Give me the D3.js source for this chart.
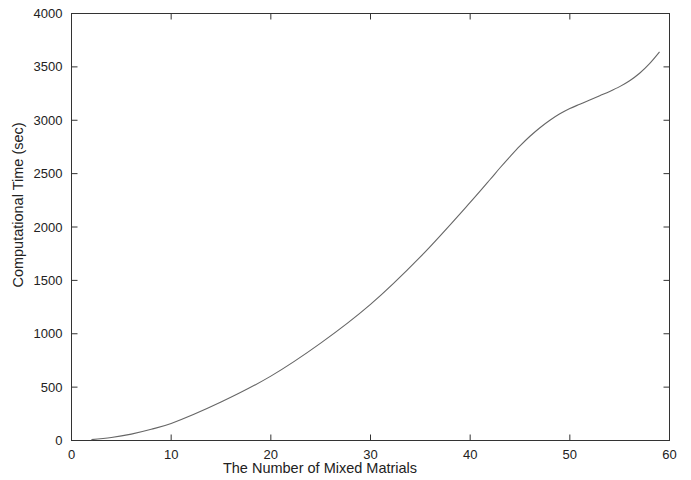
<!DOCTYPE html>
<html>
<head>
<meta charset="utf-8">
<script src="https://cdn.jsdelivr.net/npm/d3@7"></script>
<style>
  body { margin: 0; background: #fff; }
  text { font-family: "Liberation Sans", Arial, sans-serif; fill: #222; }
</style>
</head>
<body>
<svg id="chart" width="691" height="480"></svg>
<script>
const xValues = [2, 4, 6, 8, 10, 15, 20, 25, 30, 35, 40, 42, 43, 44, 45, 46, 47, 48, 49, 50, 51, 52, 53, 54, 55, 56, 57, 58, 59];
const timeValues = [8, 28, 60, 105, 160, 360, 603, 912, 1275, 1720, 2230, 2445, 2555, 2660, 2760, 2850, 2930, 3000, 3060, 3110, 3150, 3190, 3230, 3270, 3315, 3370, 3440, 3530, 3640];
const xTicks = [0, 10, 20, 30, 40, 50, 60];
const yTicks = [0, 500, 1000, 1500, 2000, 2500, 3000, 3500, 4000];
const xLabel = "The Number of Mixed Matrials";
const yLabel = "Computational Time (sec)";

const svg = d3.select("#chart");
const L = 71.5, R = 669.5, T = 13.5, B = 440.5;
const x = d3.scaleLinear().domain([0, 60]).range([L, R]);
const y = d3.scaleLinear().domain([0, 4000]).range([B, T]);

// frame
svg.append("rect").attr("x", L).attr("y", T).attr("width", R - L).attr("height", B - T)
  .attr("fill", "none").attr("stroke", "#333").attr("stroke-width", 1);

// ticks
const tl = 6;
const gx = svg.append("g");
xTicks.forEach(v => {
  if (v > 0 && v < 60) {
    gx.append("line").attr("x1", x(v)).attr("x2", x(v)).attr("y1", B).attr("y2", B - tl).attr("stroke", "#333");
    gx.append("line").attr("x1", x(v)).attr("x2", x(v)).attr("y1", T).attr("y2", T + tl).attr("stroke", "#333");
  }
  gx.append("text").attr("x", x(v)).attr("y", B + 18).attr("text-anchor", "middle")
    .attr("font-size", 13).text(v);
});
const gy = svg.append("g");
yTicks.forEach(v => {
  if (v > 0 && v < 4000) {
    gy.append("line").attr("x1", L).attr("x2", L + tl).attr("y1", y(v)).attr("y2", y(v)).attr("stroke", "#333");
    gy.append("line").attr("x1", R).attr("x2", R - tl).attr("y1", y(v)).attr("y2", y(v)).attr("stroke", "#333");
  }
  gy.append("text").attr("x", L - 9).attr("y", y(v) + 4.5).attr("text-anchor", "end")
    .attr("font-size", 13).text(v);
});

// axis labels
svg.append("text").attr("x", 320).attr("y", 473).attr("text-anchor", "middle")
  .attr("font-size", 14.5).text(xLabel);
svg.append("text").attr("transform", "translate(23,205) rotate(-90)").attr("text-anchor", "middle")
  .attr("font-size", 14.5).text(yLabel);

// curve
const data = xValues.map((v, i) => [v, timeValues[i]]);
const line = d3.line().x(d => x(d[0])).y(d => y(d[1])).curve(d3.curveCatmullRom.alpha(0.5));
svg.append("path").datum(data).attr("d", line).attr("fill", "none")
  .attr("stroke", "#666").attr("stroke-width", 1.1);
</script>
</body>
</html>
